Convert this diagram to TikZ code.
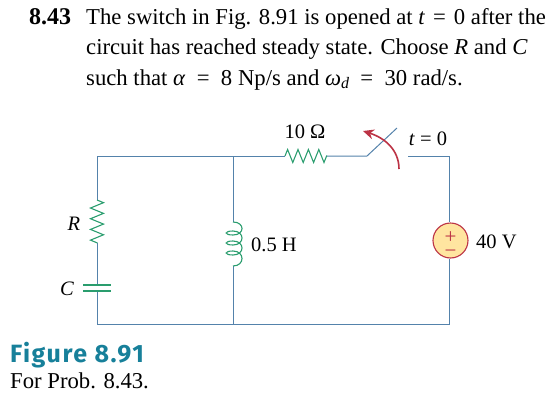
\documentclass[tikz,border=0pt]{standalone}
\usepackage{fontspec}
\setmainfont{Liberation Serif}
\newfontfamily\figfont[LetterSpace=6]{Fira Sans}
\usetikzlibrary{arrows,arrows.meta,decorations.pathmorphing}
\definecolor{wire}{HTML}{5482AB}
\definecolor{part}{HTML}{2A9D6E}
\definecolor{tip}{HTML}{BC3345}
\definecolor{srcfill}{HTML}{FFE5A0}
\definecolor{figteal}{HTML}{17809A}
\begin{document}
\begin{tikzpicture}[x=1pt,y=1pt,font=\fontsize{20.5}{24}\selectfont,
  wire line/.style={draw=wire,line width=1pt},
  res line/.style={draw=part,line width=1.1pt,decorate,decoration={zigzag,amplitude=6.5pt,segment length=#1}},
  coil line/.style={draw=part,line width=1.1pt},
  cap plate/.style={draw=part,line width=1.2pt},
  text line/.style={anchor=base west,inner sep=0pt,font=\fontsize{22.7}{26}\selectfont},
  part label/.style={anchor=base,inner sep=0pt},
  small label/.style={anchor=base west,inner sep=0pt}]
\useasboundingbox (0,0) rectangle (558,-405);
% problem text
\node[text line,font=\fontsize{24}{26}\selectfont] (num) at (29,-24) {\textbf{8.43}};
\node[text line] (l1) at (86,-24) {The switch in Fig. 8.91 is opened at \textit{t}\hspace{.35em}=\hspace{.35em}0 after the};
\node[text line] (l2) at (86,-54) {circuit has reached steady state. Choose \textit{R} and \textit{C}};
\node[text line] (l3) at (86,-85) {such that \textit{α}\hspace{.5em}=\hspace{.5em}8 Np/s and \textit{ω}\raisebox{-3pt}{\fontsize{16}{18}\selectfont\textit{d}}\hspace{.5em}=\hspace{.5em}30 rad/s.};
% corners and terminals
\coordinate (tl) at (97,-156);
\coordinate (tm) at (233,-156);
\coordinate (tr) at (449,-156);
\coordinate (bl) at (97,-324);
\coordinate (bm) at (233,-324);
\coordinate (br) at (449,-324);
\coordinate (r1a) at (285,-156);
\coordinate (r1b) at (327,-156);
\coordinate (swa) at (367,-156);
\coordinate (swb) at (397,-128);
\coordinate (swc) at (408,-156);
\coordinate (ra) at (97,-200);
\coordinate (rb) at (97,-243);
\coordinate (ca) at (97,-285);
\coordinate (cb) at (97,-291);
\coordinate (la) at (233,-222);
\coordinate (lb) at (233,-266);
\coordinate (ca1) at (83,-285);
\coordinate (ca2) at (111,-285);
\coordinate (cb1) at (83,-291);
\coordinate (cb2) at (111,-291);
\coordinate (arra) at (399,-169);
\coordinate (arrb) at (363,-131);
\node[circle,draw=tip,fill=srcfill,line width=1.1pt,minimum size=35pt,inner sep=0pt] (src) at (450.5,-240.5) {};
% wires
\draw[wire line] (ra) -- (tl) -- (r1a);
\draw[wire line] (r1b) -- (swa) -- (swb);
\draw[wire line] (swc) -- (tr) -- (tr|-src.north);
\draw[wire line] (tr|-src.south) -- (br) -- (bl) -- (cb);
\draw[wire line] (rb) -- (ca);
\draw[wire line] (tm) -- (la);
\draw[wire line] (lb) -- (bm);
% parts
\draw[res line=10.4pt] (r1a) -- (r1b);
\draw[res line=10.7pt] (ra) -- (rb);
\draw[coil line] (la) .. controls (245,-222) and (245,-235) .. (233,-235)
  .. controls (224,-235) and (224,-231) .. (233,-231)
  .. controls (245,-231) and (245,-245) .. (233,-245)
  .. controls (224,-245) and (224,-241) .. (233,-241)
  .. controls (245,-241) and (245,-255) .. (233,-255)
  .. controls (224,-255) and (224,-251) .. (233,-251)
  .. controls (245,-251) and (245,-266) .. (lb);
\draw[cap plate] (ca1) -- (ca2);
\draw[cap plate] (cb1) -- (cb2);
\draw[tip,line width=1.6pt,-{Stealth[length=11pt,width=10pt]}] (arra) .. controls (399,-150) and (385,-138) .. (arrb);
% source signs
\node[tip,inner sep=0pt,align=center,font=\fontsize{21}{14}\selectfont] (signs) at (450.5,-245) {+\\−};
% labels
\node[part label] (lr1) at (305,-138) {10 Ω};
\node[part label] (lsw) at (428,-145) {\textit{t} = 0};
\node[part label] (lr) at (74,-230) {\textit{R}};
\node[part label] (lc) at (67,-295) {\textit{C}};
\node[small label] (ll) at (251,-251) {0.5 H};
\node[small label] (lv) at (476,-248) {40 V};
% caption
\node[text line,figteal,font=\figfont\bfseries\fontsize{25}{28}\selectfont] (figname) at (10,-362) {Figure 8.91};
\node[text line] (figtext) at (10,-388) {For Prob. 8.43.};
\end{tikzpicture}
\end{document}
